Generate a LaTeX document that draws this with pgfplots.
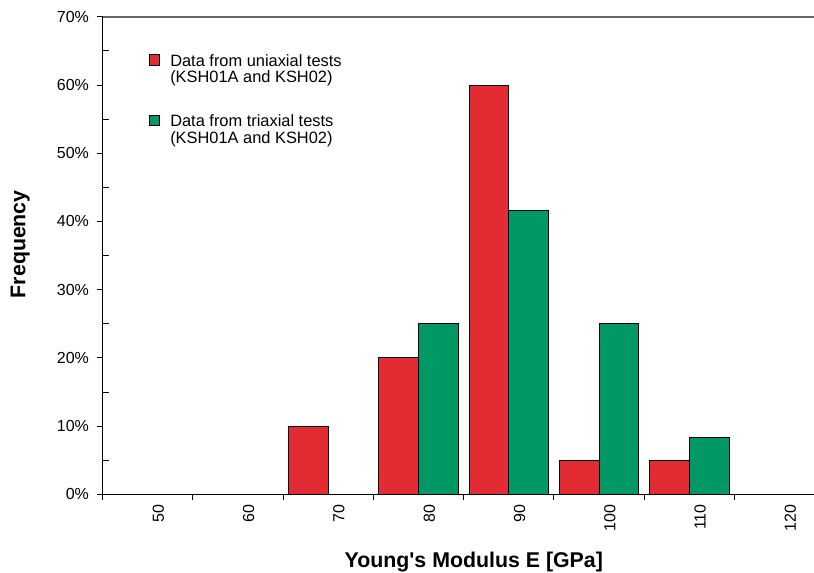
\documentclass[border=0pt]{standalone}
\usepackage{fontspec}
\setmainfont{Liberation Sans}
\usepackage{pgfplots}
\pgfplotsset{compat=1.18}
\definecolor{barred}{RGB}{227,43,52}
\definecolor{bargreen}{RGB}{0,153,102}
\definecolor{topgray}{RGB}{105,105,105}
\begin{document}
\begin{tikzpicture}
\path[use as bounding box] (0,0) rectangle (610.5pt,429.75pt);
\begin{axis}[
  at={(77.0pt,59.0pt)}, anchor=south west,
  scale only axis, width=533.5pt, height=358.1pt,
  xmin=-0.5, xmax=7.381, ymin=0, ymax=70,
  axis x line*=bottom, axis y line*=left,
  axis line style={black, line width=0.75pt},
  tick align=outside,
  major tick length=4pt, minor tick length=4.5pt,
  tick style={black, line width=0.75pt},
  xtick={0,...,7},
  xticklabels={50,60,70,80,90,100,110,120},
  major x tick style={draw=none},
  minor xtick={-0.5,0.5,...,6.5},
  ytick={0,10,...,70},
  minor ytick={5,15,...,65},
  minor y tick style={xshift=4.5pt},
  yticklabel={\pgfmathprintnumber{\tick}\%},
  /pgf/number format/assume math mode=true,
  ticklabel style={font=\fontsize{12}{14}\selectfont},
  xticklabel style={rotate=90, anchor=east, yshift=-8pt},
  yticklabel style={xshift=-2.8pt},
  xlabel={Young\textquotesingle s Modulus E [GPa]},
  ylabel={Frequency},
  label style={font=\fontsize{16}{19}\selectfont\bfseries},
  xlabel style={at={(axis description cs:0.5217,-0.1529)}, anchor=base},
  ylabel style={at={(axis description cs:-0.1088,0.5238)}, anchor=base},
  legend cell align=left,
  legend image code/.code={\draw[#1, line width=0.6pt] (0pt,-3pt) rectangle (8pt,5pt);},
  legend style={at={(axis description cs:0.0641,0.9225)}, anchor=north west,
    draw=none, fill=none, inner sep=0pt, nodes={inner sep=0pt},
    row sep=35pt, column sep=7.7pt,
    font=\fontsize{12.3}{12.4}\selectfont},
  after end axis/.code={\draw[topgray, line width=1.5pt] (rel axis cs:0,1) -- (rel axis cs:1,1);},
]
\addplot[ybar, bar width=0.44, bar shift=-0.22, fill=barred, draw=black, line width=0.75pt]
  coordinates {(0,0) (1,0) (2,10) (3,20) (4,60) (5,5) (6,5) (7,0)};
\addlegendentry{\begin{tabular}[t]{@{}l@{}}Data from uniaxial tests\\(KSH01A and KSH02)\end{tabular}}
\addplot[ybar, bar width=0.44, bar shift=0.22, fill=bargreen, draw=black, line width=0.75pt]
  coordinates {(0,0) (1,0) (2,0) (3,25) (4,41.67) (5,25) (6,8.33) (7,0)};
\addlegendentry{\begin{tabular}[t]{@{}l@{}}Data from triaxial tests\\(KSH01A and KSH02)\end{tabular}}
\end{axis}
\end{tikzpicture}
\end{document}
